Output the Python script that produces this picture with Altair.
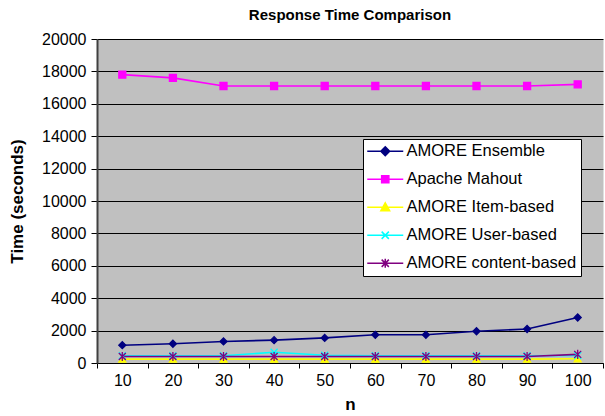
import altair as alt
import pandas as pd

n = [10, 20, 30, 40, 50, 60, 70, 80, 90, 100]
series_names = ["AMORE Ensemble", "Apache Mahout", "AMORE Item-based",
                "AMORE User-based", "AMORE content-based"]
ensemble = [1100, 1190, 1330, 1410, 1550, 1740, 1740, 1960, 2100, 2810]
mahout = [17800, 17600, 17100, 17100, 17100, 17100, 17100, 17100, 17100, 17200]
item_based = [240, 240, 240, 240, 240, 240, 240, 240, 240, 260]
user_based = [450, 450, 450, 660, 480, 450, 450, 450, 450, 460]
content_based = [400, 400, 400, 400, 400, 400, 400, 400, 400, 530]
colors = ["#000080", "#FF00FF", "#FFFF00", "#00FFFF", "#800080"]

marker_shapes = ["diamond", "square", "triangle-up",
                 "M-1,-1L1,1M-1,1L1,-1",
                 "M-1,-1L1,1M-1,1L1,-1M0,-1.3L0,1.3"]
legend_paths = [
    "M-4.5,0L4.5,0M0,-1.1L1.1,0L0,1.1L-1.1,0Z",
    "M-4.5,0L4.5,0M-0.9,-0.9L0.9,-0.9L0.9,0.9L-0.9,0.9Z",
    "M-4.5,0L4.5,0M0,-1.1L1.1,0.9L-1.1,0.9Z",
    "M-4.5,0L4.5,0M-0.9,-0.9L0.9,0.9M-0.9,0.9L0.9,-0.9",
    "M-4.5,0L4.5,0M-0.9,-0.9L0.9,0.9M-0.9,0.9L0.9,-0.9M0,-1.1L0,1.1",
]

rows = []
for name, vals in zip(series_names, [ensemble, mahout, item_based, user_based, content_based]):
    for x, v in zip(n, vals):
        rows.append({"n": x, "time": v, "series": name, "marker": name})
df = pd.DataFrame(rows)

names_js = "[" + ",".join("'" + s + "'" for s in series_names) + "]"
paths_js = "[" + ",".join("'" + p + "'" for p in legend_paths) + "]"
colors_js = "[" + ",".join("'" + c + "'" for c in colors) + "]"
shape_expr = f"{paths_js}[indexof({names_js}, datum.value)]"
color_expr = f"{colors_js}[indexof({names_js}, datum.value)]"

x_enc = alt.X("n:O", sort=n, scale=alt.Scale(paddingInner=0, paddingOuter=0),
              axis=alt.Axis(title="n", labelAngle=0, tickBand="extent",
                            grid=False, tickSize=5, labelPadding=4,
                            titlePadding=8, domainColor="black",
                            tickColor="black"))
y_enc = alt.Y("time:Q", scale=alt.Scale(domain=[0, 20000]),
              axis=alt.Axis(title="Time (seconds)", values=list(range(0, 20001, 2000)),
                            format="d", tickSize=6, labelPadding=5,
                            titlePadding=15, gridColor="black", gridWidth=1,
                            domainColor="#404040", domainWidth=2,
                            tickColor="black"))

legend = alt.Legend(
    title=None, orient="none", legendX=266, legendY=100,
    fillColor="white", strokeColor="black", padding=4, rowPadding=11,
    labelFontSize=16.5, labelLimit=400, symbolSize=64, symbolOffset=10,
    labelOffset=13,
    symbolType=alt.ExprRef(expr=shape_expr),
    symbolFillColor=alt.ExprRef(expr=color_expr),
    symbolStrokeColor=alt.ExprRef(expr=color_expr),
    symbolStrokeWidth=1.5, symbolOpacity=1,
)

lines = alt.Chart(df).mark_line(strokeWidth=1.6).encode(
    x=x_enc, y=y_enc,
    color=alt.Color("series:N", scale=alt.Scale(domain=series_names, range=colors),
                    sort=series_names, legend=legend),
)

points = alt.Chart(df).mark_point(filled=True, size=49, opacity=1, strokeWidth=1.3).encode(
    x=x_enc, y=y_enc,
    fill=alt.Fill("marker:N", sort=series_names, scale=alt.Scale(range=colors), legend=None),
    stroke=alt.Stroke("marker:N", sort=series_names, scale=alt.Scale(range=colors), legend=None),
    shape=alt.Shape("marker:N", sort=series_names, scale=alt.Scale(range=marker_shapes), legend=None),
)

chart = alt.layer(lines, points).properties(
    width=506, height=324,
    title=alt.TitleParams("Response Time Comparison", fontSize=15, fontWeight="bold",
                          anchor="middle", offset=8),
    autosize=alt.AutoSizeParams(type="none"),
    padding={"left": 97, "top": 39, "right": 2, "bottom": 53},
).configure(font="Liberation Sans").configure_view(
    fill="#C0C0C0", stroke="transparent"
).configure_axis(
    labelFontSize=16, titleFontSize=17, titleFontWeight="bold",
    labelColor="black", titleColor="black",
)

chart.save("out.html", embed_options={"renderer": "svg", "actions": False})
